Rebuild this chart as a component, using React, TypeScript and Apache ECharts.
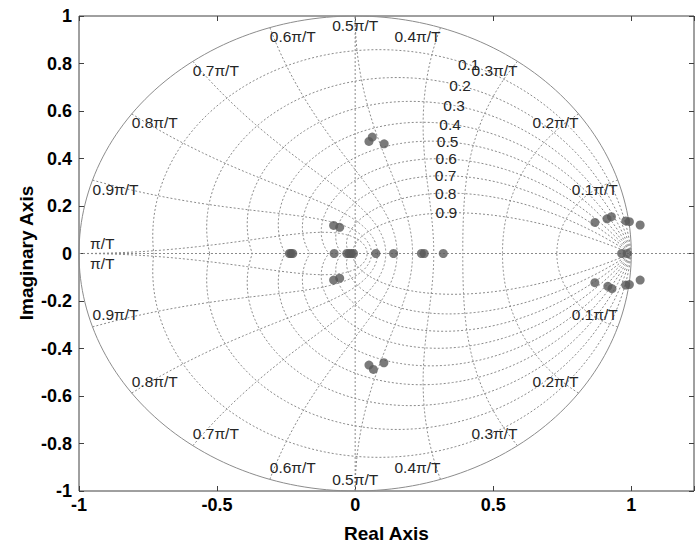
import React, { useEffect, useRef } from "react";
import * as echarts from "echarts";

// Poles (real / imaginary parts)
const poleRe = [
  -0.238, -0.232, -0.226, -0.076, -0.03, -0.022, -0.014, -0.006, 0.075, 0.139, 0.24, 0.25, 0.319, 0.965, 0.985,
  -0.078, -0.056, 0.05, 0.062, 0.105, 0.868, 0.912, 0.928, 0.98, 0.993, 1.032,
  -0.078, -0.056, 0.05, 0.066, 0.104, 0.868, 0.915, 0.93, 0.98, 0.993, 1.032,
];
const poleIm = [
  0, 0, 0, 0, 0, 0, 0, 0, 0, 0, 0, 0, 0, 0, 0,
  0.118, 0.11, 0.472, 0.49, 0.462, 0.131, 0.146, 0.155, 0.137, 0.134, 0.12,
  -0.112, -0.104, -0.47, -0.488, -0.46, -0.123, -0.138, -0.148, -0.133, -0.131, -0.112,
];

// zgrid parameters
const zetaValues = [0.1, 0.2, 0.3, 0.4, 0.5, 0.6, 0.7, 0.8, 0.9];
const wnFractions = [0.1, 0.2, 0.3, 0.4, 0.5, 0.6, 0.7, 0.8, 0.9, 1.0];
const wnLabels = ["0.1π/T", "0.2π/T", "0.3π/T", "0.4π/T", "0.5π/T", "0.6π/T", "0.7π/T", "0.8π/T", "0.9π/T", "π/T"];
const zetaLabels = ["0.1", "0.2", "0.3", "0.4", "0.5", "0.6", "0.7", "0.8", "0.9"];
const zetaLabelWn = 0.35; // fraction of π/T where damping labels sit

// axis ticks
const xTicks = [-1, -0.5, 0, 0.5, 1];
const xMin = -1;
const xMax = 1.227;
const yMin = -1;
const yMax = 1;

const N = 120;

function zetaCurve(z: number, sign: number): number[][] {
  const pts: number[][] = [];
  const m = z / Math.sqrt(1 - z * z);
  for (let i = 0; i <= N; i++) {
    const th = (Math.PI * i) / N;
    const r = Math.exp(-m * th);
    pts.push([r * Math.cos(th), sign * r * Math.sin(th)]);
  }
  return pts;
}

function wnCurve(f: number, sign: number): number[][] {
  const pts: number[][] = [];
  const wn = f * Math.PI;
  for (let i = 0; i <= N; i++) {
    const t = (Math.PI / 2) * (i / N);
    const z = Math.sin(t);
    const r = Math.exp(-z * wn);
    const th = wn * Math.cos(t);
    pts.push([r * Math.cos(th), sign * r * Math.sin(th)]);
  }
  return pts;
}

const FONT = '"Liberation Sans", Arial, sans-serif';
const GRID_COLOR = "#8a8a8a";

export default function App() {
  const ref = useRef<HTMLDivElement>(null);
  useEffect(() => {
    if (!ref.current) return;
    const chart = echarts.init(ref.current, undefined, { renderer: "svg" });

    const dotted = { color: GRID_COLOR, width: 1, type: [2, 2] as any };
    const series: any[] = [];
    const addLine = (data: number[][], style: any) =>
      series.push({
        type: "line",
        data,
        showSymbol: false,
        symbol: "none",
        silent: true,
        lineStyle: style,
        z: 1,
        animation: false,
      });

    // axes lines through origin
    addLine([[xMin, 0], [xMax, 0]], dotted);
    addLine([[0, yMin], [0, yMax]], dotted);
    zetaValues.forEach((z) => {
      addLine(zetaCurve(z, 1), dotted);
      addLine(zetaCurve(z, -1), dotted);
    });
    wnFractions.forEach((f) => {
      addLine(wnCurve(f, 1), dotted);
      addLine(wnCurve(f, -1), dotted);
    });
    // unit circle
    addLine(zetaCurve(0, 1), { color: "#8c8c8c", width: 1, type: "solid" });
    addLine(zetaCurve(0, -1), { color: "#8c8c8c", width: 1, type: "solid" });

    // label items
    type Lab = { x: number; y: number; text: string; align: string; va: string; dx: number; dy: number };
    const labs: Lab[] = [];
    zetaValues.forEach((z, i) => {
      const wn = zetaLabelWn * Math.PI;
      const r = Math.exp(-z * wn);
      const th = wn * Math.sqrt(1 - z * z);
      labs.push({ x: r * Math.cos(th), y: r * Math.sin(th), text: zetaLabels[i], align: "center", va: "middle", dx: 0, dy: 0 });
    });
    wnFractions.forEach((f, i) => {
      const a = f * Math.PI;
      const align = f < 0.5 ? "right" : f > 0.5 ? "left" : "center";
      if (f === 1) {
        labs.push({ x: -1, y: 0, text: wnLabels[i], align: "left", va: "bottom", dx: 11, dy: -2 });
        labs.push({ x: -1, y: 0, text: wnLabels[i], align: "left", va: "top", dx: 11, dy: 2 });
      } else {
        labs.push({ x: Math.cos(a), y: Math.sin(a), text: wnLabels[i], align, va: "top", dx: 0, dy: 1 });
        labs.push({ x: Math.cos(a), y: -Math.sin(a), text: wnLabels[i], align, va: "bottom", dx: 0, dy: -4 });
      }
    });
    series.push({
      type: "custom",
      data: labs.map((l) => [l.x, l.y]),
      clip: false,
      silent: true,
      z: 3,
      renderItem: (params: any, api: any) => {
        const l = labs[params.dataIndex];
        const p = api.coord([api.value(0), api.value(1)]);
        return {
          type: "text",
          x: p[0] + l.dx,
          y: p[1] + l.dy,
          style: {
            text: l.text,
            align: l.align,
            verticalAlign: l.va,
            fill: "#262626",
            fontSize: 15.5,
            fontFamily: FONT,
          },
        };
      },
    });

    series.push({
      type: "scatter",
      data: poleRe.map((r, i) => [r, poleIm[i]]),
      symbol: "circle",
      symbolSize: 9,
      itemStyle: { color: "#595959" },
      z: 5,
      silent: true,
    });

    const tickLabel = { color: "#000", fontSize: 18, fontWeight: "bold", fontFamily: FONT };
    const xFmt = (v: number) => (xTicks.some((t) => Math.abs(t - v) < 1e-9) ? String(v) : "");
    const tick = { show: true, inside: true, length: 5, lineStyle: { color: "#404040" } };
    const noLine = { show: false, onZero: false };

    chart.setOption({
      animation: false,
      backgroundColor: "#fff",
      grid: {
        left: 79,
        right: 1,
        top: 16,
        bottom: 52,
        containLabel: false,
        outerBoundsMode: "none",
        show: true,
        borderColor: "#404040",
        borderWidth: 1,
        backgroundColor: "#fff",
      },
      xAxis: [
        {
          type: "value",
          position: "bottom",
          min: xMin,
          max: xMax,
          interval: 0.5,
          axisLine: noLine,
          axisTick: tick,
          axisLabel: { ...tickLabel, margin: 5, formatter: xFmt, showMaxLabel: true },
          splitLine: { show: false },
        },
        {
          type: "value",
          position: "top",
          min: xMin,
          max: xMax,
          interval: 0.5,
          axisLine: noLine,
          axisTick: tick,
          axisLabel: { show: false },
          splitLine: { show: false },
        },
      ],
      yAxis: [
        {
          type: "value",
          position: "left",
          min: yMin,
          max: yMax,
          interval: 0.2,
          axisLine: noLine,
          axisTick: tick,
          axisLabel: { ...tickLabel, margin: 7 },
          splitLine: { show: false },
        },
        {
          type: "value",
          position: "right",
          min: yMin,
          max: yMax,
          interval: 0.2,
          axisLine: noLine,
          axisTick: tick,
          axisLabel: { show: false },
          splitLine: { show: false },
        },
      ],
      graphic: [
        {
          type: "text",
          x: 386.5,
          y: 533,
          style: { text: "Real Axis", align: "center", verticalAlign: "middle", fontSize: 19, fontWeight: "bold", fontFamily: FONT, fill: "#000" },
        },
        {
          type: "text",
          x: 26,
          y: 253,
          rotation: Math.PI / 2,
          style: { text: "Imaginary Axis", align: "center", verticalAlign: "middle", fontSize: 19, fontWeight: "bold", fontFamily: FONT, fill: "#000" },
        },
      ],
      series,
    });
    return () => chart.dispose();
  }, []);
  return <div ref={ref} style={{ position: "fixed", left: 0, top: 0, width: 695, height: 543 }} />;
}
